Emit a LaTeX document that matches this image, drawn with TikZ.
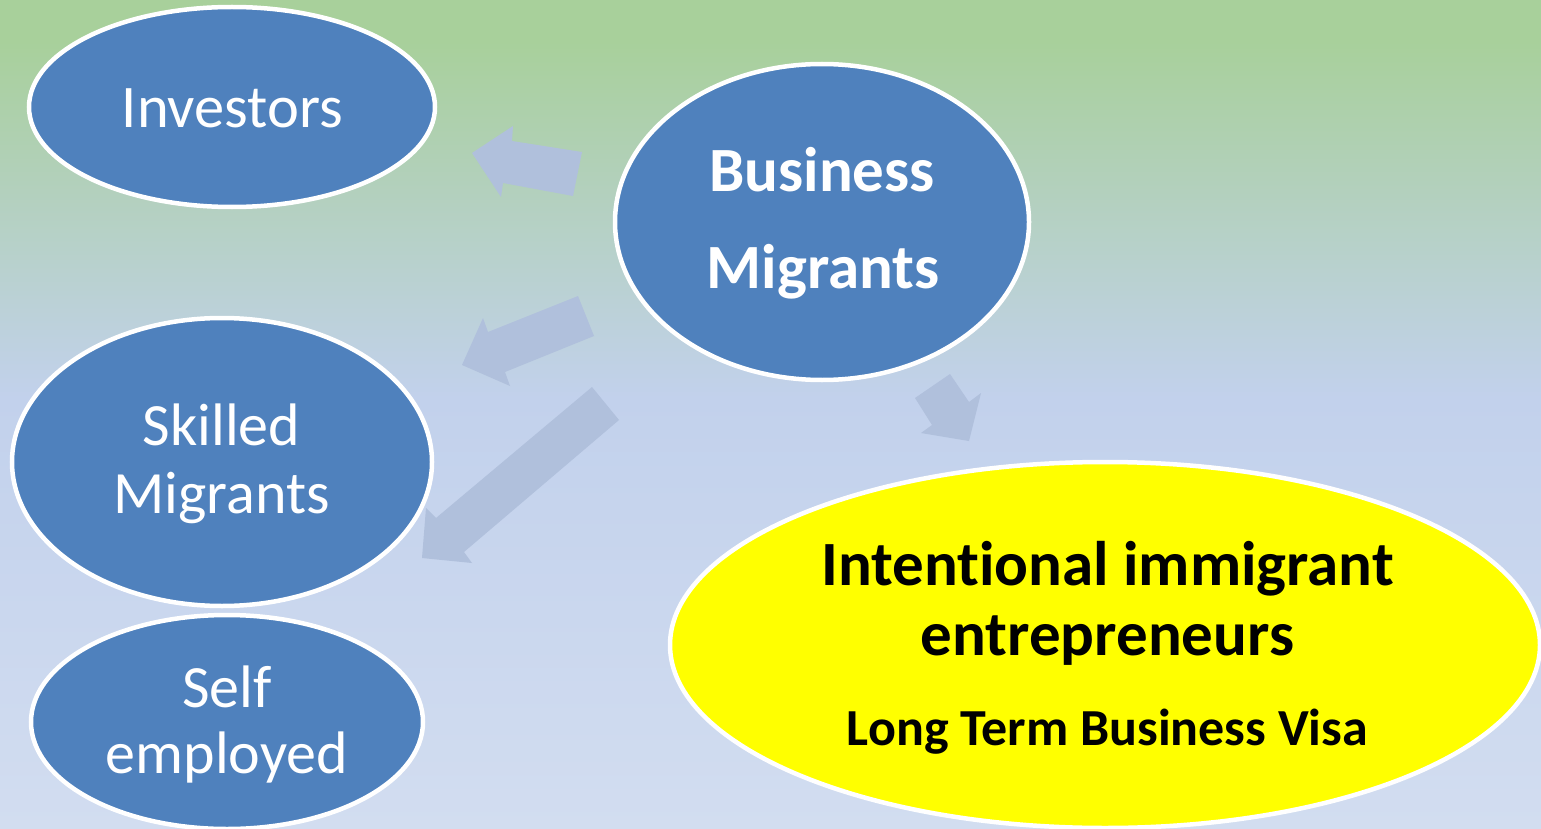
\documentclass[tikz,border=0pt]{standalone}
\usepackage{fontspec}
\setmainfont[Ligatures=NoCommon]{Carlito}
\usetikzlibrary{shapes.geometric}
\definecolor{bgtop}{RGB}{168,208,155}
\definecolor{bgmid}{RGB}{194,209,236}
\definecolor{bgbot}{RGB}{210,221,240}
\definecolor{ovalblue}{RGB}{79,129,189}
\definecolor{blockarrow}{RGB}{176,192,220}
\definecolor{hilite}{RGB}{255,255,0}
% backdrop: green at the top, fading to pale blue (path spans 25bp..75bp)
\pgfdeclareverticalshading{backdrop}{100bp}{color(0bp)=(bgbot); color(25bp)=(bgbot); color(51bp)=(bgmid); color(72.5bp)=(bgtop); color(100bp)=(bgtop)}
\tikzset{
  oval/.style={ellipse, draw=white, line width=4.5pt, fill=ovalblue, inner sep=0pt},
  goal/.style={oval, fill=hilite},
  lbl/.style={anchor=base, text=white, inner sep=0pt},
  lblbold/.style={lbl, font=\bfseries},
  goaltext/.style={anchor=base, text=black, inner sep=0pt, font=\bfseries},
  blockarr/.style={fill=blockarrow, draw=none},
}
\begin{document}
\begin{tikzpicture}[x=1pt, y=-1pt]
  \useasboundingbox (0,0) rectangle (1541,829);
  \clip (0,0) rectangle (1541,829);
  \shade[shading=backdrop] (0,0) rectangle (1541,829);

  % block arrows fanning out of the central oval
  \fill[blockarr] (472,153) -- (513,126) -- (512,141) -- (582,152) -- (573,196) -- (503,183) -- (501,197) -- cycle;
  \fill[blockarr] (462,365) -- (483,318) -- (488,332) -- (578,296) -- (594,336) -- (505,372) -- (510,386) -- cycle;
  \fill[blockarr] (422,558) -- (426,508) -- (436,518) -- (592,387) -- (619,420) -- (464,552) -- (472,563) -- cycle;
  \fill[blockarr] (969,441) -- (921,433) -- (932,425) -- (915,398) -- (950,374) -- (969,402) -- (981,393) -- cycle;

  % ovals
  \node[oval, minimum width=406pt, minimum height=200pt] (inv) at (232,107) {};
  \node[oval, minimum width=414pt, minimum height=316pt] (bus) at (822,222) {};
  \node[oval, minimum width=420pt, minimum height=288pt] (skl) at (222,462) {};
  \node[oval, minimum width=392pt, minimum height=214pt] (slf) at (227,722) {};
  \node[goal, minimum width=870pt, minimum height=366pt] (iie) at (1105,645) {};

  % labels
  \node[lbl, font=\fontsize{60.5}{66}\selectfont] (invt) at (232.5,128) {Investors};
  \node[lblbold, font=\bfseries\fontsize{63}{70}\selectfont] (bust1) at (822,192) {Business};
  \node[lblbold, font=\bfseries\fontsize{63}{70}\selectfont] (bust2) at (823,288) {Migrants};
  \node[lbl, font=\fontsize{60}{66}\selectfont] (sklt1) at (221.5,445) {Skilled};
  \node[lbl, font=\fontsize{60}{66}\selectfont] (sklt2) at (221.5,513) {Migrants};
  \node[lbl, font=\fontsize{60}{66}\selectfont] (slft1) at (227,707) {Self};
  \node[lbl, font=\fontsize{60}{66}\selectfont] (slft2) at (227,773) {employed};
  \node[goaltext, font=\bfseries\fontsize{63}{70}\selectfont] (iiet1) at (1107.5,585) {Intentional immigrant};
  \node[goaltext, font=\bfseries\fontsize{63}{70}\selectfont] (iiet2) at (1107.5,655) {entrepreneurs};
  \node[goaltext, font=\bfseries\fontsize{52}{60}\selectfont] (iiet3) at (1107.5,745) {Long Term Business Visa};
\end{tikzpicture}
\end{document}
